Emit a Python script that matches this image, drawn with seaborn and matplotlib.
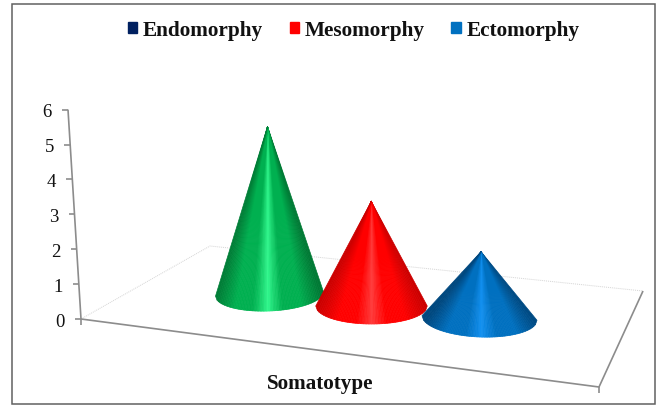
import numpy as np
import matplotlib
matplotlib.use("Agg")
import matplotlib.pyplot as plt
import seaborn as sns
from matplotlib.collections import PolyCollection
from matplotlib.patches import Patch, Rectangle

# ==================================================
# Data
# ==================================================
legend_names = ["Endomorphy", "Mesomorphy", "Ectomorphy"]
legend_colors = ["#002060", "#FF0000", "#0070C0"]
cone_values = [4.8, 3.0, 1.9]
y_ticks = [0, 1, 2, 3, 4, 5, 6]
x_title = "Somatotype"

# dark edge, body, highlight of each cone
cone_shades = [
    ("#007A35", "#00B050", "#30F78C"),
    ("#CC0000", "#FF0000", "#FF3A3A"),
    ("#00487F", "#0070C0", "#1290F0"),
]

# ==================================================
# Settings
# ==================================================
sns.set_theme(style="white")
plt.rcParams["font.family"] = ["Liberation Serif", "DejaVu Serif"]

UNIT = 34.9          # pixels per value unit on the wall axis
AXIS_X0, AXIS_Y0 = 81, 320
AXIS_TOP_X = 68
FLOOR_FR = (599, 388)
FLOOR_BR = (643, 292)
FLOOR_BL = (210, 247)

fig = plt.figure(figsize=(6.6, 4.06), dpi=100)
ax = fig.add_axes([0, 0, 1, 1])
ax.set_xlim(0, 660)
ax.set_ylim(406, 0)
ax.axis("off")

# ==================================================
# Frame, floor and axis
# ==================================================
ax.add_patch(Rectangle((12, 5), 643, 400, fill=False, ec="#606060", lw=1.1))

floor_line = dict(color="#D4D4D4", lw=0.7, ls=(0, (1, 1)))
ax.plot([AXIS_X0, FLOOR_BL[0], FLOOR_BR[0]], [AXIS_Y0, FLOOR_BL[1], FLOOR_BR[1]], **floor_line)

solid = dict(color="#8C8C8C", lw=1.2, solid_capstyle="butt")
ax.plot([AXIS_X0, FLOOR_FR[0], FLOOR_BR[0]], [AXIS_Y0, FLOOR_FR[1], FLOOR_BR[1]], **solid)
ax.plot([AXIS_X0, AXIS_X0], [AXIS_Y0, AXIS_Y0 + 6], **solid)
ax.plot([FLOOR_FR[0], FLOOR_FR[0]], [FLOOR_FR[1], FLOOR_FR[1] + 6], **solid)

top_y = AXIS_Y0 - max(y_ticks) * UNIT
ax.plot([AXIS_TOP_X, AXIS_X0], [top_y, AXIS_Y0], **solid)

for v in y_ticks:
    y = AXIS_Y0 - v * UNIT
    x = AXIS_X0 - (AXIS_X0 - AXIS_TOP_X) * v / max(y_ticks)
    ax.plot([x - 6, x], [y, y], **solid)
    ax.text(x - 21, y + 2.3, str(v), ha="center", va="center", fontsize=13.5, color="#111111")

# ==================================================
# Cones
# ==================================================
for i, (value, shades) in enumerate(zip(cone_values, cone_shades)):
    # floor perspective: slots and radii grow towards the viewer
    cx = 269.5 + 102 * i + 3 * i * (i - 1)
    cy = 295 + 12 * i
    rx = 54 + 1.75 * i
    ry = 17 + i
    tilt = (i - 1) * 0.04
    apex = (cx - 2 + i * 1.75, cy - value * UNIT)

    dark, body, light = shades
    palette = sns.blend_palette([light, body, body, dark], n_colors=40)

    # equal steps across the width keep the strips from beating near the rim
    ux = np.linspace(1, -1, 71)
    theta = np.arccos(ux)
    ex = cx + rx * ux
    ey = cy + ry * np.sin(theta) + tilt * rx * ux

    polys, colors = [], []
    for k in range(len(ux) - 1):
        polys.append([apex, (ex[k], ey[k]), (ex[k + 1], ey[k + 1])])
        t = abs((ex[k] + ex[k + 1]) / 2 - apex[0]) / rx
        colors.append(palette[min(int(t ** 0.85 * 40), 39)])

    ax.add_collection(PolyCollection(polys, facecolors=colors, edgecolors=colors,
                                     linewidths=0.5, zorder=3 + i))

# ==================================================
# Text
# ==================================================
handles = [Patch(color=c, label=n) for c, n in zip(legend_colors, legend_names)]
ax.legend(handles=handles, loc="center", bbox_to_anchor=(353.5, 31),
          bbox_transform=ax.transData, ncol=3, frameon=False,
          prop=dict(weight="bold", size=15.3), handlelength=0.45, handleheight=0.45,
          handletextpad=0.25, columnspacing=1.27, labelcolor="#111111")

ax.text(320, 384, x_title, ha="center", va="center", fontsize=15.2,
        fontweight="bold", color="#111111")

fig.savefig("out.png", dpi=100)
